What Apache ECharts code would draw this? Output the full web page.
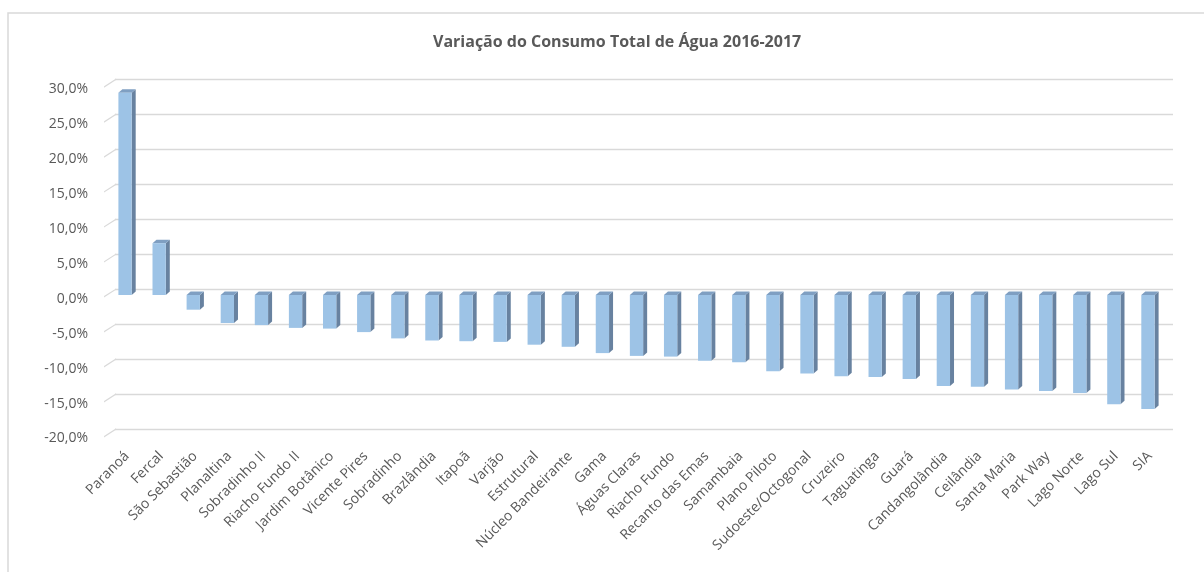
<!DOCTYPE html>
<html>
<head>
<meta charset="utf-8">
<script src="https://cdn.jsdelivr.net/npm/echarts@6/dist/echarts.min.js"></script>
<style>
	html, body { margin: 0; padding: 0; background: #ffffff; }
	#grafico { width: 1204px; height: 572px; }
</style>
</head>
<body>
<div id="grafico"></div>
<script>
	// dados (variação % 2016-2017)
	var regioes = ['Paranoá', 'Fercal', 'São Sebastião', 'Planaltina', 'Sobradinho II', 'Riacho Fundo II',
		'Jardim Botânico', 'Vicente Pires', 'Sobradinho', 'Brazlândia', 'Itapoã', 'Varjão', 'Estrutural',
		'Núcleo Bandeirante', 'Gama', 'Águas Claras', 'Riacho Fundo', 'Recanto das Emas', 'Samambaia',
		'Plano Piloto', 'Sudoeste/Octogonal', 'Cruzeiro', 'Taguatinga', 'Guará', 'Candangolândia',
		'Ceilândia', 'Santa Maria', 'Park Way', 'Lago Norte', 'Lago Sul', 'SIA'];
	var variacao = [28.9, 7.4, -2.1, -4.0, -4.3, -4.7, -4.8, -5.3, -6.2, -6.5, -6.6, -6.7, -7.1,
		-7.4, -8.3, -8.7, -8.8, -9.4, -9.6, -10.9, -11.2, -11.6, -11.7, -12.0, -13.0,
		-13.1, -13.5, -13.7, -14.0, -15.6, -16.3];
	var marcasY = [30, 25, 20, 15, 10, 5, 0, -5, -10, -15, -20];

	var titulo = 'Variação do Consumo Total de Água 2016-2017';

	var FRENTE = '#9DC3E6';
	var LADO = '#6882A0';
	var TOPO = '#7F9FC2';
	var CINZA = '#d9d9d9';
	var TEXTO = '#595959';
	var DX = 4, DY = 3.5; // profundidade das barras

	var grafico = echarts.init(document.getElementById('grafico'));

	function rotuloPct(v) {
		return v.toFixed(1).replace('.', ',') + '%';
	}

	// barra "3D": frente, lateral e topo
	function desenhaBarra(params, api) {
		var idx = api.value(0);
		var v = api.value(1);
		var p0 = api.coord([idx, 0]);
		var p1 = api.coord([idx, v]);
		var banda = api.size([1, 0])[0];
		var w = banda * 0.39;
		var esq = p0[0] - (w + DX) / 2;
		var cima = Math.min(p0[1], p1[1]);
		var baixo = Math.max(p0[1], p1[1]);
		return {
			type: 'group',
			children: [
				{ type: 'polygon', shape: { points: [[esq + w, cima], [esq + w + DX, cima - DY], [esq + w + DX, baixo - DY], [esq + w, baixo]] }, style: { fill: LADO } },
				{ type: 'polygon', shape: { points: [[esq, cima], [esq + DX, cima - DY], [esq + w + DX, cima - DY], [esq + w, cima]] }, style: { fill: TOPO } },
				{ type: 'rect', shape: { x: esq, y: cima, width: w, height: baixo - cima }, style: { fill: FRENTE } }
			]
		};
	}

	// linhas diagonais da parede lateral (fundo -> frente)
	function desenhaDiagonal(params, api) {
		var p = api.coord([api.value(0), api.value(1)]);
		return {
			type: 'group',
			children: [{
				type: 'polygon',
				shape: { points: [[p[0], p[1] - 0.7], [p[0], p[1] + 0.7], [p[0] - 12, p[1] + 8.4], [p[0] - 12, p[1] + 7]] },
				style: { fill: CINZA }
			}]
		};
	}

	var option = {
		backgroundColor: '#ffffff',
		animation: false,
		title: {
			text: titulo,
			left: 428,
			top: 29,
			textStyle: { fontFamily: 'Open Sans', fontSize: 16, fontWeight: 'bold', color: TEXTO }
		},
		graphic: [
			{ type: 'rect', shape: { x: 8, y: 13, width: 1300, height: 700 }, style: { fill: 'none', stroke: CINZA, lineWidth: 1.5 }, silent: true }
		],
		grid: [
			// parede do fundo (linhas de grade)
			{ left: 115, right: 31, top: 79.3, bottom: 143 },
			// plano das barras
			{ left: 110, right: 37, top: 85, bottom: 137 },
			// plano da frente (rótulos do eixo y)
			{ left: 103, right: 44, top: 89.5, bottom: 133.5 }
		],
		xAxis: [
			{ gridIndex: 0, type: 'value', min: 0, max: 1, show: false },
			{
				gridIndex: 1, type: 'category', data: regioes,
				axisLine: { show: false }, axisTick: { show: false },
				axisLabel: { rotate: 45, interval: 0, margin: 19, color: TEXTO, fontFamily: 'Open Sans', fontSize: 14 }
			},
			{ gridIndex: 2, type: 'category', data: regioes, show: false }
		],
		yAxis: [
			{
				gridIndex: 0, type: 'value', min: -20, max: 30, interval: 5,
				axisLine: { show: false }, axisTick: { show: false }, axisLabel: { show: false },
				splitLine: { lineStyle: { color: CINZA, width: 1.3 } }
			},
			{ gridIndex: 1, type: 'value', min: -20, max: 30, interval: 5, show: false },
			{
				gridIndex: 2, type: 'value', min: -20, max: 30, interval: 5,
				axisLine: { show: false }, axisTick: { show: false }, splitLine: { show: false },
				axisLabel: { margin: 15, color: TEXTO, fontFamily: 'Open Sans', fontSize: 14, formatter: rotuloPct }
			}
		],
		series: [
			{
				name: 'Variação',
				type: 'custom',
				xAxisIndex: 1, yAxisIndex: 1,
				renderItem: desenhaBarra,
				encode: { x: 0, y: 1 },
				data: variacao.map(function (v, i) { return [i, v]; })
			},
			{
				name: 'parede',
				type: 'custom',
				xAxisIndex: 0, yAxisIndex: 0,
				renderItem: desenhaDiagonal,
				encode: { x: 0, y: 1 },
				data: marcasY.map(function (v) { return [0.001, v]; })
			}
		]
	};

	grafico.setOption(option);
</script>
</body>
</html>
